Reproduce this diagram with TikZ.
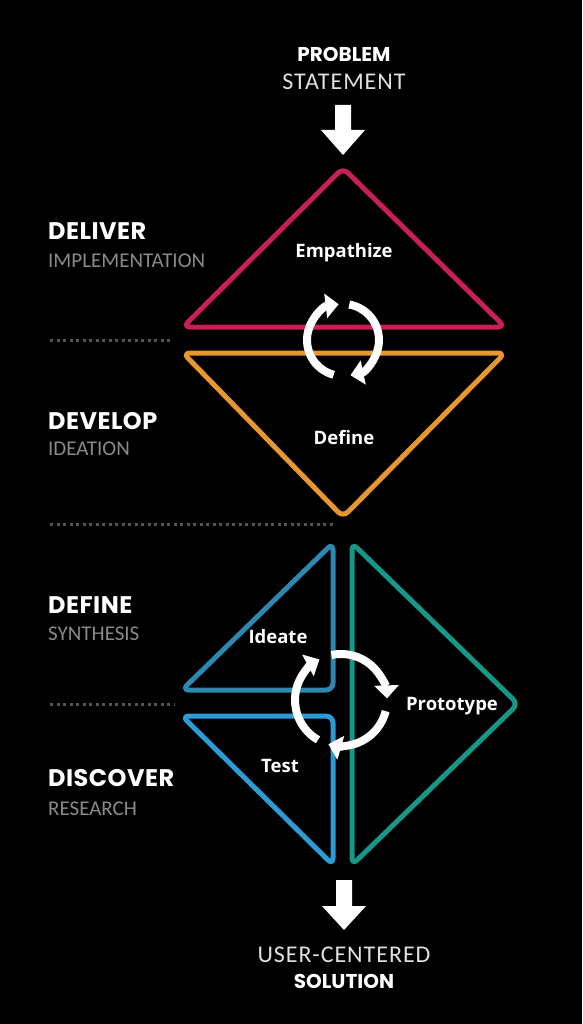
\documentclass[tikz,border=0pt]{standalone}
\usepackage{fontspec}
\usetikzlibrary{calc,arrows.meta}
\newfontfamily\headfont{Poppins}
\newfontfamily\stagefont{Poppins}[LetterSpace=2]
\newfontfamily\lightfont{Carlito}
\newfontfamily\widelightfont{Carlito}[LetterSpace=4]
\newfontfamily\labelfont{Open Sans}
\definecolor{deliverc}{HTML}{C81E5A}
\definecolor{developc}{HTML}{E8962E}
\definecolor{ideatec}{HTML}{2C88B0}
\definecolor{testc}{HTML}{2B9BD6}
\definecolor{protoc}{HTML}{17968A}
\definecolor{subgray}{HTML}{8A8A8A}
\definecolor{rulegray}{HTML}{555555}
\begin{document}
\begin{tikzpicture}[x=1pt,y=1pt,
  head/.style={font=\headfont\bfseries\fontsize{20}{24}\selectfont, text=white, inner sep=0pt},
  stage/.style={font=\stagefont\bfseries\fontsize{24}{28}\selectfont, text=white, inner sep=0pt},
  sub/.style={font=\lightfont\fontsize{21}{24}\selectfont, text=subgray, inner sep=0pt},
  subw/.style={font=\widelightfont\fontsize{24}{28}\selectfont, text=white!88!black, inner sep=0pt},
  lbl/.style={font=\labelfont\bfseries\fontsize{18.5}{22}\selectfont, text=white, inner sep=0pt},
  tri/.style={line width=5pt, rounded corners=7pt, line join=round},
  cyc/.style={draw=white, line width=8pt, -{Triangle[length=13pt,width=24pt]}},
  rule/.style={draw=rulegray, line width=3pt, dash pattern=on 3pt off 3.5pt},
  blockarrow/.style={fill=white}]
\fill[black] (0,0) rectangle (582,-1024);
\useasboundingbox (0,0) rectangle (582,-1024);

% stage labels on the left
\node[stage, anchor=base west] (deliver) at (48,-240) {DELIVER};
\node[sub, anchor=base west] (impl) at (48,-267) {IMPLEMENTATION};
\node[stage, anchor=base west] (develop) at (48,-429) {DEVELOP};
\node[sub, anchor=base west] (idea) at (48,-455) {IDEATION};
\node[stage, anchor=base west] (define) at (48,-613) {DEFINE};
\node[sub, anchor=base west] (synth) at (48,-640) {SYNTHESIS};
\node[stage, anchor=base west] (discover) at (48,-786) {DISCOVER};
\node[sub, anchor=base west] (research) at (48,-815) {RESEARCH};

% dashed separators
\coordinate (r1a) at (50,-340);  \coordinate (r1b) at (172,-340);
\coordinate (r2a) at (50,-524);  \coordinate (r2b) at (333,-524);
\coordinate (r3a) at (50,-704);  \coordinate (r3b) at (175,-704);
\draw[rule] (r1a) -- (r1b);
\draw[rule] (r2a) -- (r2b);
\draw[rule] (r3a) -- (r3b);

% input and output
\node[head, anchor=base] (problem) at (344,-62) {PROBLEM};
\node[subw, anchor=base] (statement) at (344,-90) {STATEMENT};
\node[subw, anchor=base] (user) at (344,-962) {USER-CENTERED};
\node[head, anchor=base] (solution) at (344,-988) {SOLUTION};

% block arrows
\coordinate (ta) at (343,-105);
\fill[blockarrow] ($(ta)+(-8,0)$) -- ($(ta)+(8,0)$) -- ($(ta)+(8,-25)$) -- ($(ta)+(22,-25)$)
  -- ($(ta)+(0,-50)$) -- ($(ta)+(-22,-25)$) -- ($(ta)+(-8,-25)$) -- cycle;
\coordinate (ba) at (344,-880);
\fill[blockarrow] ($(ba)+(-8,0)$) -- ($(ba)+(8,0)$) -- ($(ba)+(8,-26)$) -- ($(ba)+(22,-26)$)
  -- ($(ba)+(0,-50)$) -- ($(ba)+(-22,-26)$) -- ($(ba)+(-8,-26)$) -- cycle;

% deliver triangle
\coordinate (pA) at (343,-168); \coordinate (pB) at (505,-327); \coordinate (pC) at (183,-327);
\draw[tri, draw=deliverc] ($(pA)!.5!(pB)$) -- (pB) -- (pC) -- (pA) -- cycle;
% develop triangle
\coordinate (oA) at (183,-353); \coordinate (oB) at (505,-353); \coordinate (oC) at (343,-517);
\draw[tri, draw=developc] ($(oA)!.5!(oB)$) -- (oB) -- (oC) -- (oA) -- cycle;
% ideate triangle
\coordinate (iA) at (333,-543); \coordinate (iB) at (333,-690); \coordinate (iC) at (182,-690);
\draw[tri, draw=ideatec] ($(iA)!.5!(iB)$) -- (iB) -- (iC) -- (iA) -- cycle;
% test triangle
\coordinate (sA) at (182,-716); \coordinate (sB) at (333,-716); \coordinate (sC) at (333,-865);
\draw[tri, draw=testc] ($(sA)!.5!(sB)$) -- (sB) -- (sC) -- (sA) -- cycle;
% prototype triangle
\coordinate (qA) at (352,-543); \coordinate (qB) at (518,-704); \coordinate (qC) at (352,-865);
\draw[tri, draw=protoc] ($(qA)!.5!(qC)$) -- (qC) -- (qB) -- (qA) -- cycle;

% phase names
\node[lbl, anchor=base] (empathize) at (344,-257) {Empathize};
\node[lbl, anchor=base] (definel) at (344,-444) {Define};
\node[lbl, anchor=base] (ideate) at (278,-643) {Ideate};
\node[lbl, anchor=base] (prototype) at (452,-710) {Prototype};
\node[lbl, anchor=base] (test) at (280,-772) {Test};

% upper iteration loop
\coordinate (c1) at (343,-340);
\draw[cyc] ($(c1)+(255:36)$) arc[start angle=255, end angle=97, radius=36];
\draw[cyc] ($(c1)+(80:36)$) arc[start angle=80, end angle=-78, radius=36];

% lower iteration loop
\coordinate (c2) at (341,-700);
\draw[cyc] ($(c2)+(102:46)$) arc[start angle=102, end angle=2, radius=46];
\draw[cyc] ($(c2)+(-14:46)$) arc[start angle=-14, end angle=-106, radius=46];
\draw[cyc] ($(c2)+(-120:46)$) arc[start angle=-120, end angle=-242, radius=46];
\end{tikzpicture}
\end{document}
